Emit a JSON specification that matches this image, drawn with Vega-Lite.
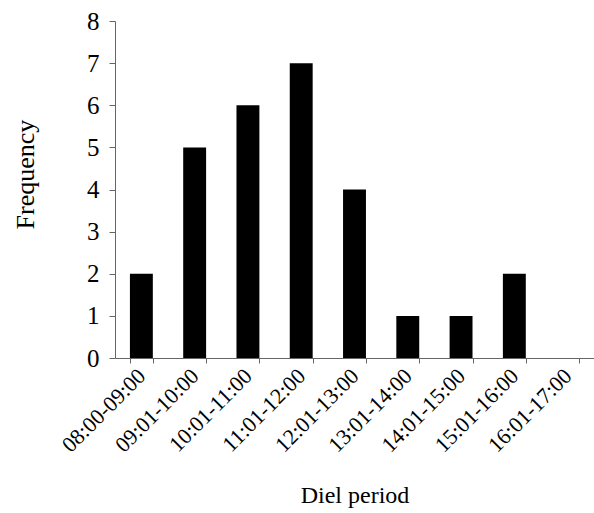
{
  "$schema": "https://vega.github.io/schema/vega-lite/v6.json",
  "autosize": "none",
  "padding": {"left": 115, "top": 21, "right": 0, "bottom": 155},
  "width": 479,
  "height": 337,
  "background": "white",
  "data": {"values": [
    {"period": "08:00-09:00", "frequency": 2},
    {"period": "09:01-10:00", "frequency": 5},
    {"period": "10:01-11:00", "frequency": 6},
    {"period": "11:01-12:00", "frequency": 7},
    {"period": "12:01-13:00", "frequency": 4},
    {"period": "13:01-14:00", "frequency": 1},
    {"period": "14:01-15:00", "frequency": 1},
    {"period": "15:01-16:00", "frequency": 2},
    {"period": "16:01-17:00", "frequency": 0}
  ]},
  "mark": {"type": "bar", "color": "black"},
  "encoding": {
    "x": {
      "field": "period", "type": "nominal", "sort": null,
      "scale": {"paddingInner": 0.57, "paddingOuter": 0.28},
      "axis": {
        "title": "Diel period", "labelAngle": -45, "labelAlign": "right", "labelBaseline": "middle",
        "labelFont": "Liberation Serif", "labelFontSize": 22, "labelColor": "black", "labelOverlap": false,
        "titleFont": "Liberation Serif", "titleFontSize": 24, "titleFontWeight": "normal", "titleColor": "black",
        "titleY": 137, "titleBaseline": "middle",
        "domainColor": "#666", "tickColor": "#666", "tickBand": "extent", "tickSize": 5, "labelPadding": 9,
        "grid": false
      }
    },
    "y": {
      "field": "frequency", "type": "quantitative",
      "scale": {"domain": [0, 8]},
      "axis": {
        "title": "Frequency", "values": [0,1,2,3,4,5,6,7,8], "labelOverlap": false,
        "labelFont": "Liberation Serif", "labelFontSize": 25, "labelColor": "black", "labelPadding": 10,
        "titleFont": "Liberation Serif", "titleFontSize": 26, "titleFontWeight": "normal", "titleColor": "black",
        "titleX": -90, "titleY": 153, "titleBaseline": "middle", "titleAngle": -90,
        "domainColor": "#666", "tickColor": "#666", "tickSize": 6,
        "grid": false
      }
    }
  },
  "config": {"view": {"stroke": null}}
}
